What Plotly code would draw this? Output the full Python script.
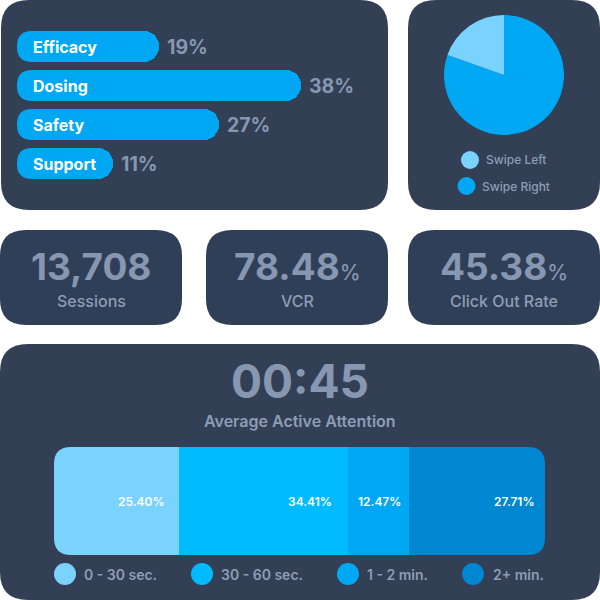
import plotly.graph_objects as go

# Topic bars
topics = ["Efficacy", "Dosing", "Safety", "Support"]
topic_pct = [19, 38, 27, 11]
# Support pill is drawn a bit longer than its 11% label in the original
topic_lengths = [19, 38, 27, 12.85]

# Swipe pie
swipe_labels = ["Swipe Right", "Swipe Left"]
swipe_values = [80.4, 19.6]

# Stat cards
stat_values = ["13,708", "78.48", "45.38"]
stat_suffix = ["", "%", "%"]
stat_labels = ["Sessions", "VCR", "Click Out Rate"]

# Attention bar
attention_time = "00:45"
attention_title = "Average Active Attention"
attention_labels = ["0 - 30 sec.", "30 - 60 sec.", "1 - 2 min.", "2+ min."]
attention_values = [25.40, 34.41, 12.47, 27.71]

PANEL = "#323F55"
CARD = "#2F3F57"
TEXT = "#8797B1"
LABEL = "#8E9DB5"
FONT = "Inter"
attention_colors = ["#7AD3FF", "#00BBFF", "#00A8F3", "#0087D1"]
swipe_colors = ["#00A8F3", "#7AD3FF"]


def px(x):
    return x / 600


def py(y):
    return 1 - y / 600


def rounded(x0, y0, x1, y1, r):
    return (f"M{px(x0 + r)},{py(y0)} L{px(x1 - r)},{py(y0)} "
            f"Q{px(x1)},{py(y0)} {px(x1)},{py(y0 + r)} L{px(x1)},{py(y1 - r)} "
            f"Q{px(x1)},{py(y1)} {px(x1 - r)},{py(y1)} L{px(x0 + r)},{py(y1)} "
            f"Q{px(x0)},{py(y1)} {px(x0)},{py(y1 - r)} L{px(x0)},{py(y0 + r)} "
            f"Q{px(x0)},{py(y0)} {px(x0 + r)},{py(y0)} Z")


def corner_mask(cx, cy, dx, dy, r):
    # little notch in panel colour, used to round the corners the stack leaves square
    return dict(type="path", xref="paper", yref="paper", layer="above",
                path=(f"M{px(cx)},{py(cy)} L{px(cx + dx * r)},{py(cy)} "
                      f"Q{px(cx)},{py(cy)} {px(cx)},{py(cy + dy * r)} Z"),
                fillcolor=PANEL, line_width=0)


def circle(cx, cy, r, color):
    return dict(type="circle", xref="paper", yref="paper", layer="above",
                x0=px(cx - r), x1=px(cx + r), y0=py(cy + r), y1=py(cy - r),
                fillcolor=color, line_width=0)


def label(x, y, text, size, color, weight=500, anchor="center"):
    return dict(xref="paper", yref="paper", x=px(x), y=py(y), text=text, showarrow=False,
                xanchor=anchor, yanchor="middle",
                font=dict(family=FONT, size=size, color=color, weight=weight))


fig = go.Figure()

fig.add_trace(go.Bar(
    x=topic_lengths, y=topics, orientation="h", width=0.795,
    marker=dict(color="#00A8F3", cornerradius=15, line_width=0),
    hoverinfo="skip", xaxis="x", yaxis="y",
))

fig.add_trace(go.Pie(
    labels=swipe_labels, values=swipe_values, sort=False, direction="clockwise",
    rotation=0, textinfo="none", showlegend=False,
    marker=dict(colors=swipe_colors, line_width=0),
    domain=dict(x=[px(444), px(564)], y=[py(135), py(15)]),
))

for name, value, color in zip(attention_labels, attention_values, attention_colors):
    fig.add_trace(go.Bar(
        x=[value], y=["Attention"], orientation="h", name=name, width=1,
        marker=dict(color=color, line_width=0),
        hoverinfo="skip", xaxis="x2", yaxis="y2",
    ))

# Panels
panels = [
    (1, 0, 388, 210, 28, PANEL), (408, 0, 600, 210, 28, PANEL),
    (0, 230, 182, 325, 26, CARD), (206, 230, 388, 325, 26, CARD), (408, 230, 600, 325, 26, CARD),
    (0, 344, 600, 600, 28, PANEL),
]
shapes = [dict(type="path", xref="paper", yref="paper", layer="below",
               path=rounded(x0, y0, x1, y1, r), fillcolor=c, line_width=0)
          for x0, y0, x1, y1, r, c in panels]

# Round the attention stack and the left ends of the pills
for cx, cy, dx, dy in [(54, 447, 1, 1), (545, 447, -1, 1), (54, 555, 1, -1), (545, 555, -1, -1)]:
    shapes.append(corner_mask(cx, cy, dx, dy, 17))
for top in [31, 70, 109, 148]:
    shapes.append(corner_mask(17, top, 1, 1, 15))
    shapes.append(corner_mask(17, top + 31, 1, -1, 15))

# Swipe legend and attention legend swatches
shapes.append(circle(470, 160, 9, swipe_colors[1]))
shapes.append(circle(466.5, 186, 9, swipe_colors[0]))
for cx, color in zip([65, 202, 348, 473], attention_colors):
    shapes.append(circle(cx, 574, 11, color))

annotations = []

for name, pct, length in zip(topics, topic_pct, topic_lengths):
    annotations.append(dict(xref="x", yref="y", x=0, y=name, text=name, showarrow=False,
                            xanchor="left", xshift=14,
                            font=dict(family=FONT, size=16, color="white", weight=700)))
    annotations.append(dict(xref="x", yref="y", x=length, y=name, text=f"{pct}%", showarrow=False,
                            xanchor="left", xshift=6,
                            font=dict(family=FONT, size=19.5, color=TEXT, weight=700)))

annotations.append(label(484, 160, "Swipe Left", 12, LABEL, 500, "left"))
annotations.append(label(480, 186, "Swipe Right", 12, LABEL, 500, "left"))

for cx, value, suffix, name in zip([91, 297, 504], stat_values, stat_suffix, stat_labels):
    text = value
    if suffix:
        text += f'<span style="font-size:21px;font-weight:500">{suffix}</span>'
    annotations.append(label(cx, 266, text, 37, TEXT, 700))
    annotations.append(label(cx, 301, name, 16, LABEL, 500))

annotations.append(label(300, 381, attention_time, 46, TEXT, 700))
annotations.append(label(300, 421, attention_title, 16, LABEL, 600))

running = 0
for value, pad in zip(attention_values, [11, 13, 6, 8]):
    running = round(running + value, 2)
    annotations.append(dict(xref="x2", yref="y2", x=running, y="Attention", text=f"{value:.2f}%",
                            showarrow=False, xanchor="right", xshift=-pad,
                            font=dict(family=FONT, size=12, color="white", weight=600)))

for x, name in zip([82, 219, 365, 491], attention_labels):
    annotations.append(label(x, 574, name, 14, LABEL, 600, "left"))

fig.update_layout(
    width=600, height=600,
    margin=dict(l=0, r=0, t=0, b=0),
    paper_bgcolor="white", plot_bgcolor="rgba(0,0,0,0)",
    barmode="stack", bargap=0, showlegend=False,
    font=dict(family=FONT),
    shapes=shapes, annotations=annotations,
    xaxis=dict(domain=[px(17), px(301)], range=[0, 38], visible=False, fixedrange=True),
    yaxis=dict(domain=[py(183), py(27)], categoryorder="array", categoryarray=topics[::-1],
               range=[-0.5, 3.5], visible=False, fixedrange=True),
    xaxis2=dict(domain=[px(53.5), px(545)], range=[0, round(sum(attention_values), 2) + 0.001],
                visible=False, anchor="y2", fixedrange=True),
    yaxis2=dict(domain=[py(555), py(447)], range=[-0.5, 0.5], visible=False, anchor="x2",
                fixedrange=True),
)

# page margin would push the 600px figure out of the window
fig.write_html("out.html", config=dict(displayModeBar=False),
               post_script="document.body.style.margin='0';document.body.style.overflow='hidden';")
